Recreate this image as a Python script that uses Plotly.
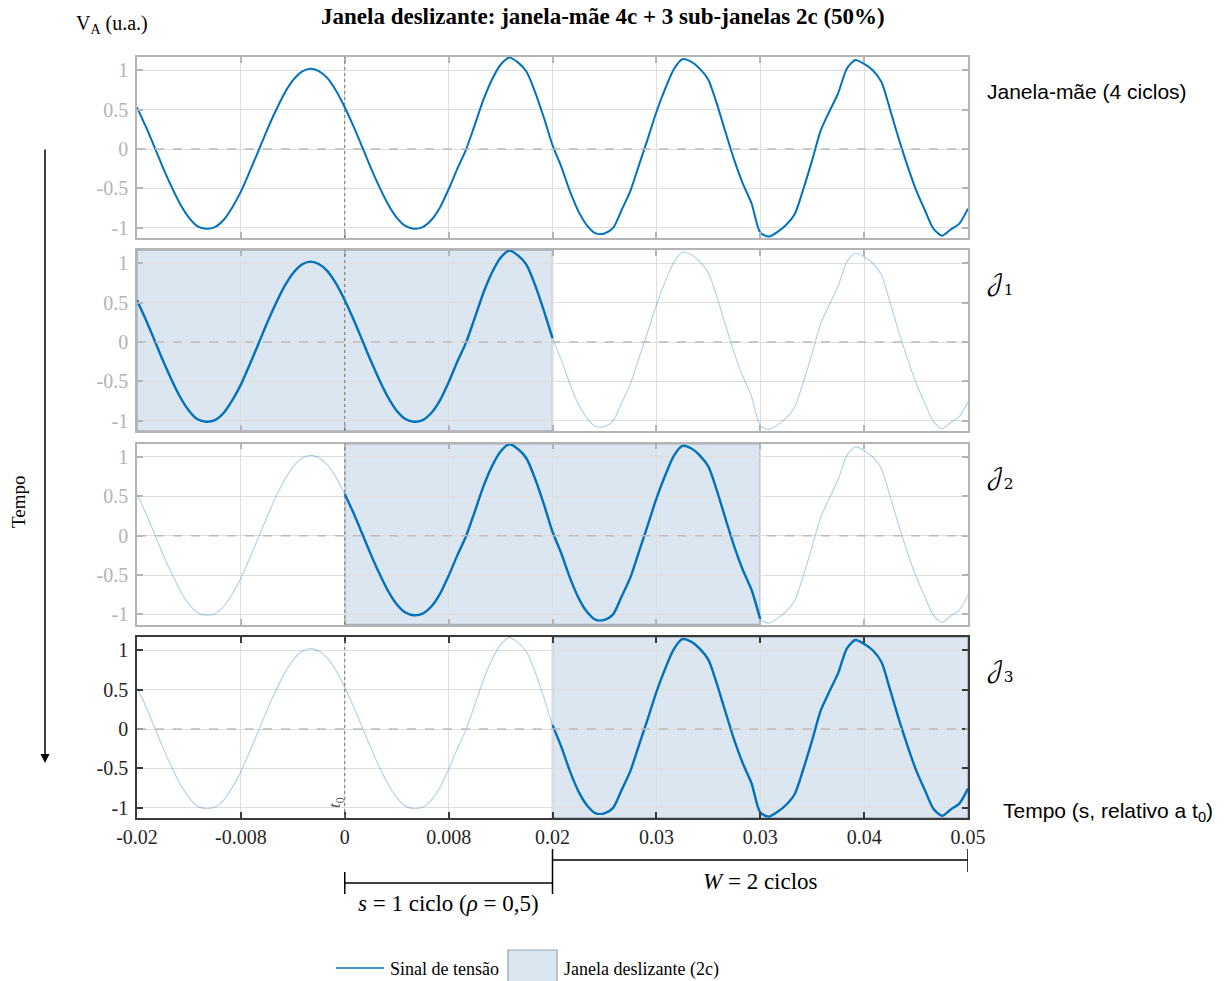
import plotly.graph_objects as go

# ---------------- data ----------------
t_start = -1 / 60          # s, start of mother window (relative to t0)
t_step = 1 / (60 * 24)     # s, sample step (1/24 of a 60 Hz cycle)

v_a = [
    0.53, 0.29, 0.03, -0.235, -0.48, -0.70, -0.87, -0.98, -1.01, -0.99, -0.90, -0.74,
    -0.54, -0.29, -0.03, 0.235, 0.48, 0.70, 0.87, 0.98, 1.02, 0.99, 0.90, 0.74,
    0.53,
    0.29, 0.03, -0.235, -0.48, -0.70, -0.87, -0.975, -1.01, -0.99, -0.90, -0.74, -0.51,
    -0.25, -0.01, 0.30, 0.62, 0.88, 1.07, 1.16, 1.10, 0.98, 0.72, 0.40,
    0.05,
    -0.22, -0.53, -0.79, -0.97, -1.07, -1.07, -1.00, -0.77, -0.53, -0.20, 0.13, 0.47,
    0.76, 1.01, 1.14, 1.11, 1.02, 0.88, 0.57, 0.21, -0.14, -0.44, -0.69,
    -1.06,
    -1.11, -1.05, -0.96, -0.82, -0.50, -0.14, 0.24, 0.48, 0.71, 1.02, 1.13, 1.08,
    1.00, 0.85, 0.50, 0.13, -0.21, -0.52, -0.77, -1.01, -1.10, -1.02, -0.945, -0.755,
]
t = [t_start + i * t_step for i in range(len(v_a))]

x_range = [-1 / 60, 3 / 60]
y_range = [-1.128, 1.168]
sub_windows = [(-1 / 60, 1 / 60), (0.0, 2 / 60), (1 / 60, 3 / 60)]
x_tickvals = [-1 / 60, -1 / 120, 0, 1 / 120, 2 / 120, 3 / 120, 4 / 120, 5 / 120, 6 / 120]
x_ticktext = ["-0.02", "-0.008", "0", "0.008", "0.02", "0.03", "0.03", "0.04", "0.05"]
y_tickvals = [-1, -0.5, 0, 0.5, 1]
y_ticktext = ["-1", "-0.5", "0", "0.5", "1"]
panel_labels = ["Janela-mãe (4 ciclos)", "𝒥<sub>1</sub>", "𝒥<sub>2</sub>", "𝒥<sub>3</sub>"]

# ---------------- style ----------------
W, H = 1231, 981
SERIF = "Liberation Serif, Times New Roman, serif"
SANS = "Liberation Sans, Arial, sans-serif"
BLUE = "#0072BD"
LIGHT = "rgba(0,114,189,0.33)"
WIN_FILL = "#dce6f0"
WIN_LINE = "#a4aebb"
GRID = "#dedede"


def fx(p):
    return p / W


def fy(p):
    return 1 - p / H


panels = [(57, 238), (250, 431), (443.7, 624.5), (637, 818)]
label_y = [91, 285, 479, 672]

fig = go.Figure()
layout = dict(
    width=W, height=H, margin=dict(l=0, r=0, t=0, b=0, autoexpand=False),
    paper_bgcolor="white", plot_bgcolor="white", showlegend=False,
)
shapes = []
annotations = []

for i, (top, bot) in enumerate(panels):
    n = "" if i == 0 else str(i + 1)
    last = i == 3
    frame = "#3a3a3a" if last else "#b4b4b4"
    tcol = "#262626" if last else "#b3b3b3"
    common = dict(
        automargin=False,
        ticks="inside", ticklen=6, tickwidth=1.5, tickcolor=frame,
        showgrid=True, gridcolor=GRID, gridwidth=1.3, zeroline=False,
        showline=True, mirror="ticks", linecolor=frame, linewidth=1.5,
        tickfont=dict(family=SERIF, size=20, color=tcol),
    )
    layout["xaxis" + n] = dict(
        domain=[fx(137), fx(968)], range=x_range, anchor="y" + n,
        tickvals=x_tickvals, ticktext=x_ticktext, showticklabels=last, **common)
    layout["yaxis" + n] = dict(
        domain=[fy(bot), fy(top)], range=y_range, anchor="x" + n,
        tickvals=y_tickvals, ticktext=y_ticktext, ticklabelstandoff=3, **common)
    xr, yr = "x" + n, "y" + n
    if i == 0:
        fig.add_trace(go.Scatter(x=t, y=v_a, mode="lines", xaxis=xr, yaxis=yr,
                                 line=dict(color=BLUE, width=2, shape="spline", smoothing=0.7)))
    else:
        w0, w1 = sub_windows[i - 1]
        fig.add_trace(go.Scatter(x=t, y=v_a, mode="lines", xaxis=xr, yaxis=yr,
                                 line=dict(color=LIGHT, width=1.1, shape="spline", smoothing=0.7)))
        idx = [k for k, tk in enumerate(t) if w0 - 1e-9 <= tk <= w1 + 1e-9]
        fig.add_trace(go.Scatter(x=[t[k] for k in idx], y=[v_a[k] for k in idx],
                                 mode="lines", xaxis=xr, yaxis=yr,
                                 line=dict(color=BLUE, width=2.4, shape="spline", smoothing=0.7)))
        shapes.append(dict(type="rect", xref=xr, yref=yr + " domain", x0=w0, x1=w1,
                           y0=0, y1=1, fillcolor=WIN_FILL,
                           line=dict(color=WIN_LINE, width=1.5), layer="below"))
    # dashed zero line
    shapes.append(dict(type="line", xref=xr + " domain", yref=yr, x0=0, x1=1, y0=0, y1=0,
                       line=dict(color="#bcbcbc", width=1.5, dash="dash"), layer="above"))
    # dotted t0 line
    shapes.append(dict(type="line", xref=xr, yref=yr + " domain", x0=0, x1=0, y0=0, y1=1,
                       line=dict(color="#707070", width=1, dash="dot"), layer="above"))
    # right-side labels
    if i == 0:
        annotations.append(dict(x=fx(985), y=fy(label_y[i]), text=panel_labels[i],
                                xanchor="left", font=dict(family=SANS, size=21, color="black")))
    else:
        annotations.append(dict(x=fx(984), y=fy(label_y[i]), text=panel_labels[i],
                                xanchor="left",
                                font=dict(family="DejaVu Math TeX Gyre, DejaVu Serif, serif",
                                          size=22, color="black")))

# title and axis texts
annotations += [
    dict(x=fx(603), y=fy(17), text="<b>Janela deslizante: janela-mãe 4c + 3 sub-janelas 2c (50%)</b>",
         font=dict(family=SERIF, size=23, color="black")),
    dict(x=fx(74), y=fy(25), text="V<sub>A</sub> (u.a.)", xanchor="left",
         font=dict(family=SERIF, size=20, color="black")),
    dict(x=fx(1001), y=fy(812), text="Tempo (s, relativo a t<sub>0</sub>)", xanchor="left",
         font=dict(family=SANS, size=21, color="black")),
    dict(x=fx(18), y=fy(502), text="Tempo", textangle=-90,
         font=dict(family=SERIF, size=19, color="black")),
    dict(x=fx(336), y=fy(803), text="<i>t</i><sub>0</sub>", textangle=-90,
         font=dict(family=SERIF, size=17, color="#555555")),
    dict(x=fx(760), y=fy(881), text="<i>W</i> = 2 ciclos",
         font=dict(family=SERIF, size=23, color="black")),
    dict(x=fx(448), y=fy(903), text="<i>s</i> = 1 ciclo (<i>ρ</i> = 0,5)",
         font=dict(family=SERIF, size=23, color="black")),
    dict(x=fx(388), y=fy(969), text="Sinal de tensão", xanchor="left",
         font=dict(family=SERIF, size=18, color="black")),
    dict(x=fx(562), y=fy(969), text="Janela deslizante (2c)", xanchor="left",
         font=dict(family=SERIF, size=18, color="black")),
]
for a in annotations:
    a.setdefault("xref", "paper")
    a.setdefault("yref", "paper")
    a.setdefault("showarrow", False)
    a.setdefault("xanchor", "center")
    a.setdefault("yanchor", "middle")

# time arrow on the left
annotations.append(dict(x=fx(45), y=fy(763), xref="paper", yref="paper", ax=0, ay=-615,
                        text="", showarrow=True,
                        arrowhead=2, arrowsize=1.2, arrowwidth=1.5, arrowcolor="black"))


# brackets below the x axis (x in data units of bottom axis)
def seg(x0, y0, x1, y1, xref="x4"):
    return dict(type="line", xref=xref, yref="paper", x0=x0, x1=x1, y0=fy(y0), y1=fy(y1),
                line=dict(color="black", width=1.5))


shapes += [
    seg(1 / 60, 860, 3 / 60, 860), seg(1 / 60, 849, 1 / 60, 871), seg(3 / 60, 849, 3 / 60, 872),
    seg(0, 883, 1 / 60, 883), seg(0, 872, 0, 894), seg(1 / 60, 871, 1 / 60, 894),
]

# manual legend
shapes += [
    dict(type="line", xref="paper", yref="paper", x0=fx(336), x1=fx(384), y0=fy(968), y1=fy(968),
         line=dict(color=BLUE, width=1.5)),
    dict(type="rect", xref="paper", yref="paper", x0=fx(508), x1=fx(557), y0=fy(950), y1=fy(990),
         fillcolor=WIN_FILL, line=dict(color="#8fa4ba", width=1.2)),
]

layout["shapes"] = shapes
layout["annotations"] = annotations
fig.update_layout(**layout)
fig.write_html("out.html")
